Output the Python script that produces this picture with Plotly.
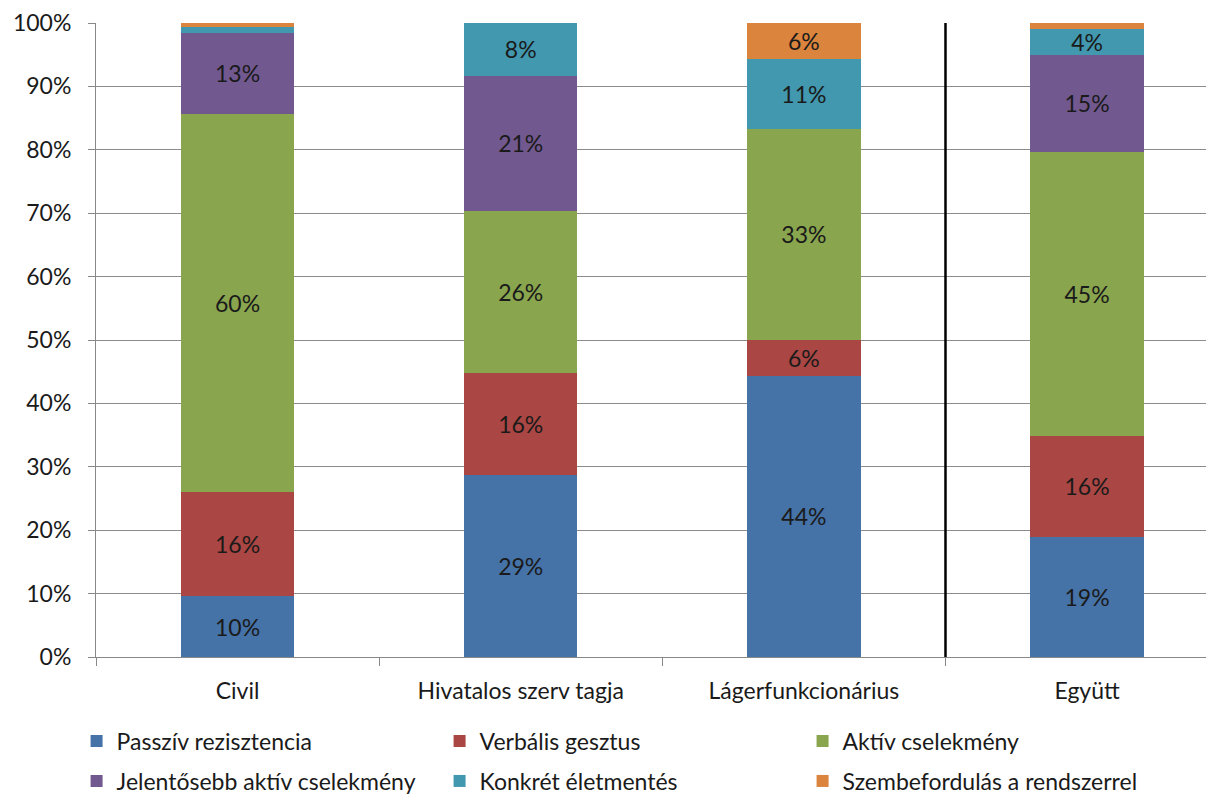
import plotly.graph_objects as go

categories = ["Civil", "Hivatalos szerv tagja", "Lágerfunkcionárius", "Együtt"]
series_names = [
    "Passzív rezisztencia",
    "Verbális gesztus",
    "Aktív cselekmény",
    "Jelentősebb aktív cselekmény",
    "Konkrét életmentés",
    "Szembefordulás a rendszerrel",
]
passziv = [9.6, 28.7, 44.4, 18.9]
verbalis = [16.4, 16.1, 5.6, 16.0]
aktiv = [59.6, 25.5, 33.3, 44.8]
jelentosebb = [12.9, 21.4, 0.0, 15.3]
konkret = [0.8, 8.3, 11.1, 4.1]
szembe = [0.7, 0.0, 5.6, 0.9]
y_ticks = [0, 10, 20, 30, 40, 50, 60, 70, 80, 90, 100]
y_tick_labels = [f"{t}%" for t in y_ticks]

series_values = [passziv, verbalis, aktiv, jelentosebb, konkret, szembe]
colors = ["#4572A7", "#AA4643", "#89A54E", "#71588F", "#4198AF", "#DB843D"]

FONT = "Lato, Open Sans, sans-serif"
FS = 23
TXT = "#1a1a1a"

fig = go.Figure()
for name, vals, col in zip(series_names, series_values, colors):
    labels = [f"{round(v)}%" if v >= 3 else "" for v in vals]
    fig.add_trace(go.Bar(
        x=categories, y=vals, name=name, marker=dict(color=col, line=dict(width=0)),
        width=0.4, text=labels, textposition="inside", insidetextanchor="middle",
        textangle=0, textfont=dict(family=FONT, size=FS, color=TXT),
        constraintext="none",
        showlegend=False, hoverinfo="skip",
    ))

for i, (name, col) in enumerate(zip(series_names, colors)):
    fig.add_trace(go.Scatter(
        x=[None], y=[None], mode="markers", name=name,
        marker=dict(symbol="square", size=12, color=col),
        legend="legend" if i < 3 else "legend2",
    ))

fig.add_shape(type="line", xref="x", yref="y", x0=2.5, x1=2.5, y0=0, y1=100,
              line=dict(color="black", width=2.5))

legend_common = dict(
    orientation="h", xanchor="left", yanchor="middle",
    font=dict(family=FONT, size=FS, color=TXT),
    entrywidth=318, entrywidthmode="pixels", itemwidth=30,
    bgcolor="rgba(0,0,0,0)", traceorder="normal",
)

fig.update_layout(
    width=1206, height=794,
    margin=dict(l=96, r=0, t=23, b=137, autoexpand=False),
    paper_bgcolor="white", plot_bgcolor="white",
    barmode="stack",
    font=dict(family=FONT, size=FS, color=TXT),
    uniformtext=dict(mode=False),
    legend=dict(x=-0.0175, y=-(741 - 657) / 634, **legend_common),
    legend2=dict(x=-0.0175, y=-(781 - 657) / 634, **legend_common),
    xaxis=dict(
        range=[-0.5, 3.42], showline=True, linecolor="#888888", linewidth=1,
        ticks="outside", tickson="boundaries", ticklen=8, tickcolor="#888888",
        ticklabelstandoff=13, tickfont=dict(family=FONT, size=FS, color=TXT),
        showgrid=False, automargin=False,
    ),
    yaxis=dict(
        range=[0, 100], tickvals=y_ticks, ticktext=y_tick_labels,
        showline=True, linecolor="#888888", linewidth=1,
        ticks="outside", ticklen=7, tickcolor="#888888",
        ticklabelstandoff=12,
        showgrid=True, gridcolor="#8c8c8c", gridwidth=1,
        tickfont=dict(family=FONT, size=FS, color=TXT), zeroline=False,
        automargin=False,
    ),
)

fig.write_html(
    "out.html",
    config={"displayModeBar": False},
    post_script="document.body.style.margin='0';document.body.style.overflow='hidden';",
)
